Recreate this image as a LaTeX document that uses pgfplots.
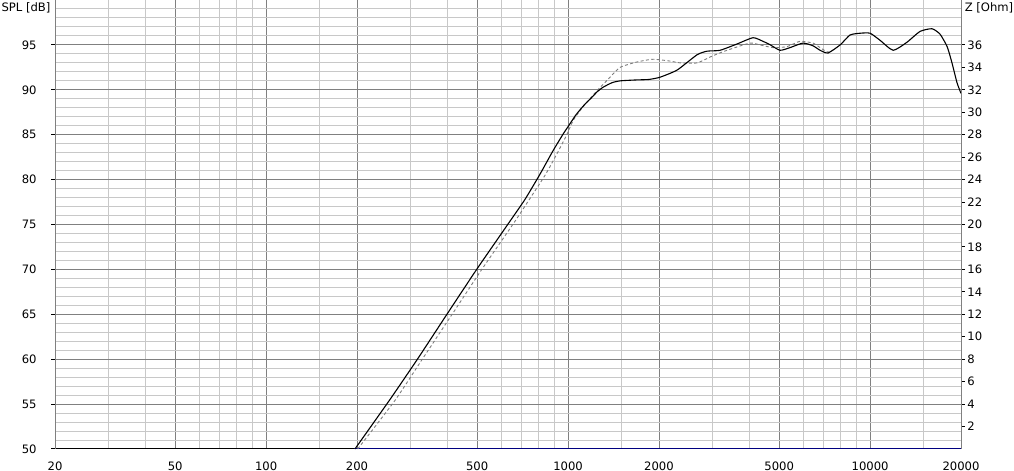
\documentclass[border=0pt]{standalone}
\usepackage{fontspec}
\setmainfont{DejaVu Sans}
\usepackage{pgfplots}
\pgfplotsset{compat=1.18}
\definecolor{majg}{RGB}{128,128,128}
\definecolor{ming}{RGB}{200,200,200}
\definecolor{dashg}{RGB}{125,125,125}
\definecolor{navyb}{RGB}{0,0,128}
\begin{document}
\begin{tikzpicture}
\useasboundingbox (-27.5pt,-11pt) rectangle (479.5pt,224.5pt);
\begin{axis}[
 at={(0,0)}, anchor=south west,
 scale only axis, width=453pt, height=224.5pt,
 xmode=log, xmin=20, xmax=20000, ymin=50, ymax=100,
 axis x line*=bottom, axis y line*=left,
 x axis line style={black, line width=0.5pt},
 y axis line style={majg, line width=0.5pt},
 xtick={20,50,100,200,500,1000,2000,5000,10000,20000},
 xticklabels={20,50,100,200,500,1000,2000,5000,10000,20000},
 minor xtick={30,40,60,70,80,90,150,300,400,600,700,800,900,1500,3000,4000,6000,7000,8000,9000,15000},
 ytick={50,55,60,65,70,75,80,85,90,95},
 minor ytick={51,52,53,54,56,57,58,59,61,62,63,64,66,67,68,69,71,72,73,74,76,77,78,79,81,82,83,84,86,87,88,89,91,92,93,94,96,97,98,99},
 grid=both,
 major grid style={majg, line width=0.5pt},
 minor grid style={ming, line width=0.5pt},
 minor tick length=0pt,
 xtick style={draw=none},
 ytick style={black, line width=0.5pt},
 tick align=outside,
 major tick length=2pt,
 /pgf/number format/assume math mode=true,
 tick label style={font=\fontsize{5.8}{6.5}\selectfont},
 xticklabel style={anchor=north, inner sep=0pt, yshift=-4pt},
 yticklabel style={anchor=east, inner sep=0pt, xshift=-7pt},
 clip=false,
]
% navy line along the bottom
\addplot[navyb, line width=0.5pt] coordinates {(196,50) (20000,50)};
% dashed gray curve
\addplot[dashg, line width=0.45pt, dash pattern=on 1.5pt off 1.2pt, smooth, tension=0.35] coordinates {
(201,50) (267,55.4) (329,60) (413,65) (518,70) (659,75.1) (748,77.9) (843,80.6) (926,83.1) (990,85)
(1040,86.6) (1120,88.1) (1247,89.9) (1377,91.4) (1486,92.5) (1691,93.1) (1910,93.4)
(2174,93.2) (2350,93.0) (2673,93.0) (3020,93.8) (3360,94.4) (4000,95.2) (4317,95.0)
(4770,94.7) (5300,94.8) (5860,95.4) (6470,95.2) (6830,94.7) (7259,94.2) (7700,94.6)
};
% black solid curve
\addplot[black, line width=0.55pt, smooth, tension=0.35] coordinates {
(196.9,50) (257,55.5) (317,60) (397,65) (498,70) (634,75.1) (720,77.8) (807,80.6) (891,83.2) (964,85.1)
(1000,85.9) (1061,87.2) (1130,88.3) (1194,89.1) (1250,89.8) (1308,90.3) (1400,90.8)
(1491,91.0) (1686,91.1) (1850,91.15) (2014,91.4) (2296,92.2) (2673,93.9)
(2885,94.3) (3184,94.4) (3625,95.1) (4096,95.8) (4418,95.4) (4674,95.0) (5034,94.4)
(5433,94.7) (5997,95.2) (6470,94.9) (6830,94.4) (7259,94.1) (7960,95.0) (8580,96.1)
(9270,96.3) (10000,96.3) (10800,95.5) (11920,94.4) (13250,95.3) (14630,96.5)
(16030,96.8) (17040,96.2) (18000,94.8) (18670,93.0) (19400,90.8) (20000,89.6)
};
\end{axis}
\begin{axis}[
 at={(0,0)}, anchor=south west,
 scale only axis, width=453pt, height=224.5pt,
 xmode=log, xmin=20, xmax=20000, ymin=0, ymax=40,
 axis y line*=right, axis x line=none,
 y axis line style={majg, line width=0.5pt},
 ytick={2,4,...,36},
 ytick style={black, line width=0.5pt},
 tick align=outside,
 major tick length=2pt,
 /pgf/number format/assume math mode=true,
 tick label style={font=\fontsize{5.8}{6.5}\selectfont},
 yticklabel style={anchor=west, inner sep=0pt, xshift=1pt},
]
\end{axis}
\node[font=\fontsize{5.8}{6.5}\selectfont, inner sep=0pt] at (-14.5pt,220.5pt) {SPL [dB]};
\node[font=\fontsize{5.8}{6.5}\selectfont, inner sep=0pt] at (467pt,220.5pt) {Z [Ohm]};
\end{tikzpicture}
\end{document}
